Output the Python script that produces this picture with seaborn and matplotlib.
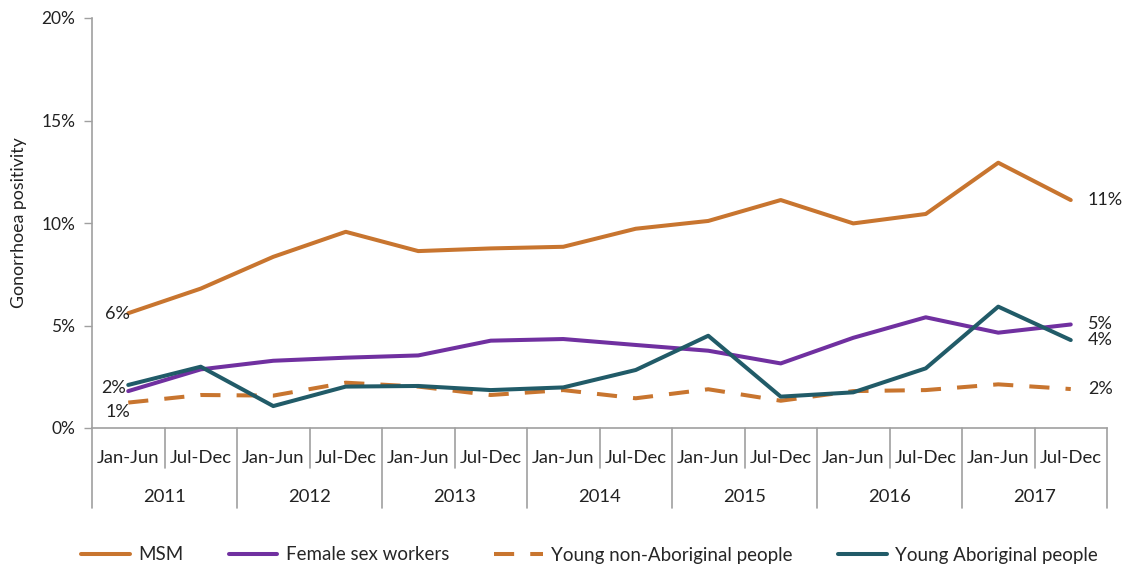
import numpy as np
import pandas as pd
import matplotlib
matplotlib.use("Agg")
import matplotlib.pyplot as plt
import seaborn as sns
from matplotlib.lines import Line2D

years = ["2011", "2012", "2013", "2014", "2015", "2016", "2017"]
halves = ["Jan-Jun", "Jul-Dec"]
periods = [f"{y} {h}" for y in years for h in halves]

msm = [5.6, 6.8, 8.35, 9.57, 8.63, 8.76, 8.84, 9.72, 10.1, 11.12, 9.98, 10.44, 12.94, 11.12]
fsw = [1.8, 2.86, 3.28, 3.43, 3.54, 4.26, 4.34, 4.05, 3.77, 3.15, 4.4, 5.4, 4.65, 5.05]
young_non_ab = [1.24, 1.61, 1.58, 2.21, 2.02, 1.61, 1.85, 1.45, 1.89, 1.33, 1.8, 1.85, 2.13, 1.9]
young_ab = [2.1, 2.99, 1.07, 2.02, 2.05, 1.85, 1.98, 2.83, 4.5, 1.53, 1.74, 2.91, 5.92, 4.29]

series_names = ["MSM", "Female sex workers", "Young non-Aboriginal people", "Young Aboriginal people"]
series_vals = [msm, fsw, young_non_ab, young_ab]
colors = ["#C8752F", "#7030A0", "#C8752F", "#215B68"]
styles = ["-", "-", "--", "-"]

start_labels = ["6%", "2%", "1%", None]
end_labels = ["11%", "5%", "2%", "4%"]

sns.set_theme(style="white")
plt.rcParams['font.family'] = ['Lato', 'DejaVu Sans']

W, H = 1127, 567
fig = plt.figure(figsize=(W / 100, H / 100), dpi=100)
ax_l, ax_r, ax_t, ax_b = 92, 1107, 18, 428
ax = fig.add_axes([ax_l / W, 1 - ax_b / H, (ax_r - ax_l) / W, (ax_b - ax_t) / H])

x_idx = np.arange(len(periods))
handles = []
for name, vals, c, ls in zip(series_names, series_vals, colors, styles):
    df = pd.DataFrame({"x": x_idx, "y": vals})
    sns.lineplot(data=df, x="x", y="y", ax=ax, color=c, linewidth=2.9, legend=False)
    line = ax.lines[-1]
    if ls == "--":
        line.set_dashes((5, 4))
    handles.append(Line2D([0], [0], color=c, lw=2.9, linestyle=ls,
                          dashes=(5, 4) if ls == "--" else (None, None)))

ax.set_xlim(-0.5, len(periods) - 0.5)
ax.set_ylim(0, 20)
ax.set_yticks([0, 5, 10, 15, 20])
ax.set_yticklabels(["0%", "5%", "10%", "15%", "20%"], fontsize=12.5, color="#222222")
ax.set_xticks(x_idx)
ax.set_xticklabels([h for y in years for h in halves], fontsize=13.3, color="#222222")
ax.tick_params(axis="x", length=0, pad=16)
ax.tick_params(axis="y", length=6, width=1, color="#A0A0A0", left=True, direction="out", pad=6)
ax.set_xlabel("")
ax.set_ylabel("Gonorrhoea positivity", fontsize=12.8, color="#222222", labelpad=10)

for s in ["top", "right"]:
    ax.spines[s].set_visible(False)
for s in ["left", "bottom"]:
    ax.spines[s].set_color("#A0A0A0")
    ax.spines[s].set_linewidth(1.2)

# multi-level category separators
axh = ax_b - ax_t
for i in range(len(periods) + 1):
    xpos = i - 0.5
    depth = 80 if i % 2 == 0 else 40
    ax.add_line(Line2D([xpos, xpos], [0, -depth / axh], color="#A0A0A0", lw=1.2,
                       transform=ax.get_xaxis_transform(), clip_on=False))
for j, y in enumerate(years):
    ax.text(2 * j + 0.5, -69 / axh, y, transform=ax.get_xaxis_transform(),
            ha="center", va="center", fontsize=13.3, color="#222222")

# data labels
start_offsets = [(2, -1), (-2, 3), (2, -9)]
for k, lab in enumerate(start_labels):
    if lab is None:
        continue
    dx, dy = start_offsets[k]
    ax.annotate(lab, (0, series_vals[k][0]), xytext=(dx, dy), textcoords="offset pixels",
                ha="right", va="center", fontsize=13, color="#222222")
end_offsets = [0, 0, 0, 0]
for k, lab in enumerate(end_labels):
    ax.annotate(lab, (len(periods) - 1, series_vals[k][-1]), xytext=(17, end_offsets[k]),
                textcoords="offset pixels", ha="left", va="center", fontsize=13, color="#222222",
                annotation_clip=False)

fig.legend(handles, series_names, loc="center", bbox_to_anchor=(0.523, 1 - 555 / H), ncol=4,
           frameon=False, fontsize=13.5, handlelength=2.6, columnspacing=2.4, handletextpad=0.45)

fig.savefig("out.png", dpi=100, facecolor="white")
